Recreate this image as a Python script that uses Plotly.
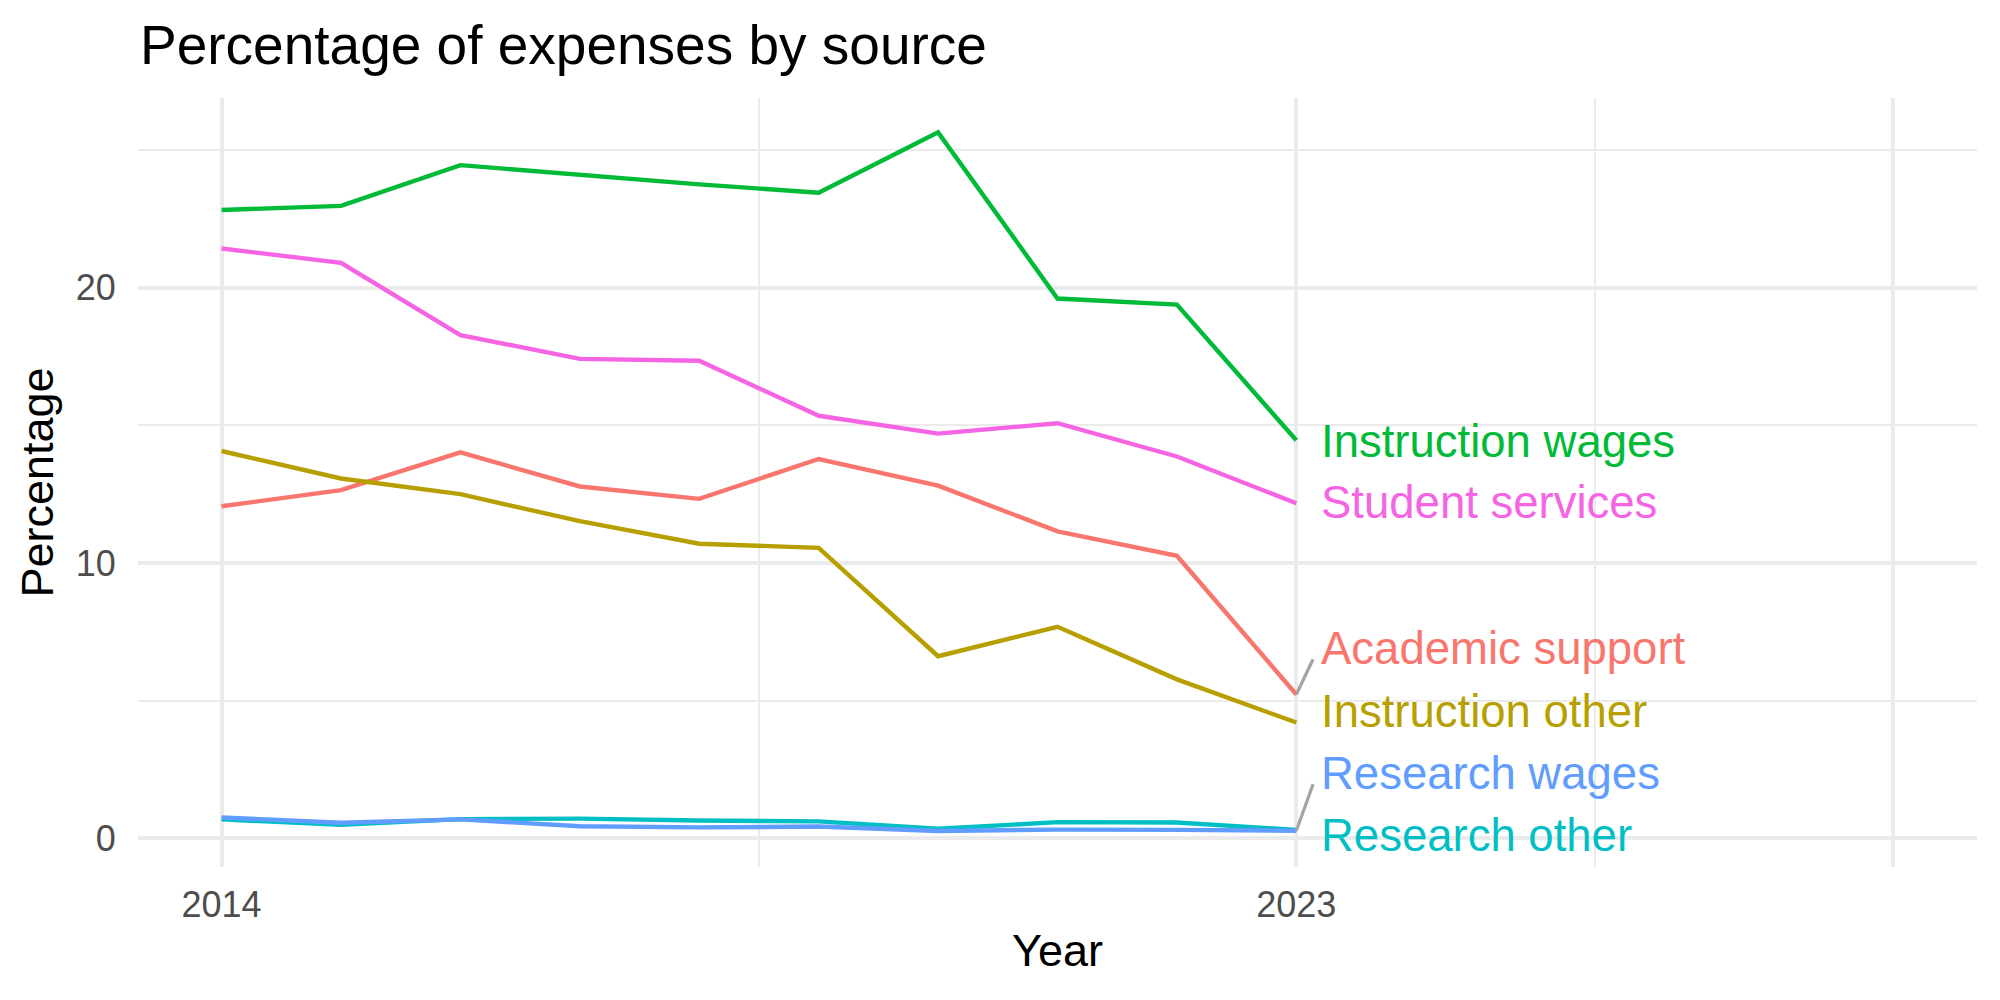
import plotly.graph_objects as go

years = [2014, 2015, 2016, 2017, 2018, 2019, 2020, 2021, 2022, 2023]

academic_support = [12.06, 12.65, 14.02, 12.78, 12.33, 13.78, 12.81, 11.15, 10.26, 5.22]
instruction_other = [14.07, 13.07, 12.50, 11.52, 10.70, 10.55, 6.61, 7.68, 5.77, 4.20]
instruction_wages = [22.83, 22.98, 24.46, 24.09, 23.76, 23.46, 25.65, 19.61, 19.39, 14.46]
research_other = [0.68, 0.48, 0.69, 0.71, 0.64, 0.61, 0.34, 0.58, 0.57, 0.30]
research_wages = [0.75, 0.56, 0.68, 0.43, 0.39, 0.42, 0.26, 0.31, 0.30, 0.27]
student_services = [21.43, 20.91, 18.28, 17.42, 17.35, 15.35, 14.70, 15.08, 13.87, 12.17]

series_names = ["Academic support", "Instruction other", "Instruction wages",
                "Research other", "Research wages", "Student services"]
series_values = [academic_support, instruction_other, instruction_wages,
                 research_other, research_wages, student_services]
colors = ["#F8766D", "#B79F00", "#00BA38", "#00BFC4", "#619CFF", "#F564E3"]

# repelled label positions (y) at the right end
label_y = [6.90, 4.62, 14.43, 0.10, 2.36, 12.19]
label_segment = [True, False, False, False, True, False]

x_major = [2014, 2023, 2028]
x_major_text = ["2014", "2023", ""]
x_minor = [2018.5, 2025.5]
y_major = [0, 10, 20]
y_minor = [5, 15, 25]

FONT = "Liberation Sans, Arial, Helvetica, sans-serif"

fig = go.Figure()
for name, vals, col in zip(series_names, series_values, colors):
    fig.add_trace(go.Scatter(x=years, y=vals, mode="lines", name=name,
                             line=dict(color=col, width=4.4), showlegend=False))

label_x = years[-1] + 0.19
for name, vals, col, ly, seg in zip(series_names, series_values, colors, label_y, label_segment):
    if seg:
        fig.add_trace(go.Scatter(x=[years[-1], years[-1] + 0.14], y=[vals[-1], ly - 0.4],
                                 mode="lines", line=dict(color="#A3A3A3", width=3.2),
                                 showlegend=False, hoverinfo="skip"))
    fig.add_annotation(x=label_x, y=ly, text=name, showarrow=False, xanchor="left",
                       yanchor="middle", font=dict(family=FONT, size=45.5, color=col))

grid_major = dict(showgrid=True, gridcolor="#EBEBEB", gridwidth=3.6)

fig.update_layout(
    width=2000, height=1000,
    plot_bgcolor="white", paper_bgcolor="white",
    margin=dict(l=138, r=23, t=98, b=133),
    font=dict(family=FONT, color="#000000"),
    title=dict(text="Percentage of expenses by source", x=0.07, xanchor="left",
               xref="container", y=0.955, yref="container", yanchor="middle",
               font=dict(family=FONT, size=55, color="black")),
    xaxis=dict(range=[2013.3, 2028.7], tickmode="array", tickvals=x_major,
               ticktext=x_major_text, showline=False, zeroline=False,
               ticks="outside", ticklen=6, tickcolor="rgba(0,0,0,0)",
               tickfont=dict(family=FONT, size=36, color="#4D4D4D"),
               minor=dict(tickmode="array", tickvals=x_minor, showgrid=True,
                          gridcolor="#EBEBEB", gridwidth=1.8, ticks=""),
               title=dict(text="Year", font=dict(family=FONT, size=45, color="black"), standoff=10),
               **grid_major),
    yaxis=dict(range=[-1.05, 26.9], tickmode="array", tickvals=y_major,
               showline=False, zeroline=False,
               ticks="outside", ticklen=14, tickcolor="rgba(0,0,0,0)",
               tickfont=dict(family=FONT, size=36, color="#4D4D4D"),
               minor=dict(tickmode="array", tickvals=y_minor, showgrid=True,
                          gridcolor="#EBEBEB", gridwidth=1.8, ticks=""),
               title=dict(text="Percentage", font=dict(family=FONT, size=45, color="black"), standoff=8),
               **grid_major),
)

fig.write_html("out.html")
